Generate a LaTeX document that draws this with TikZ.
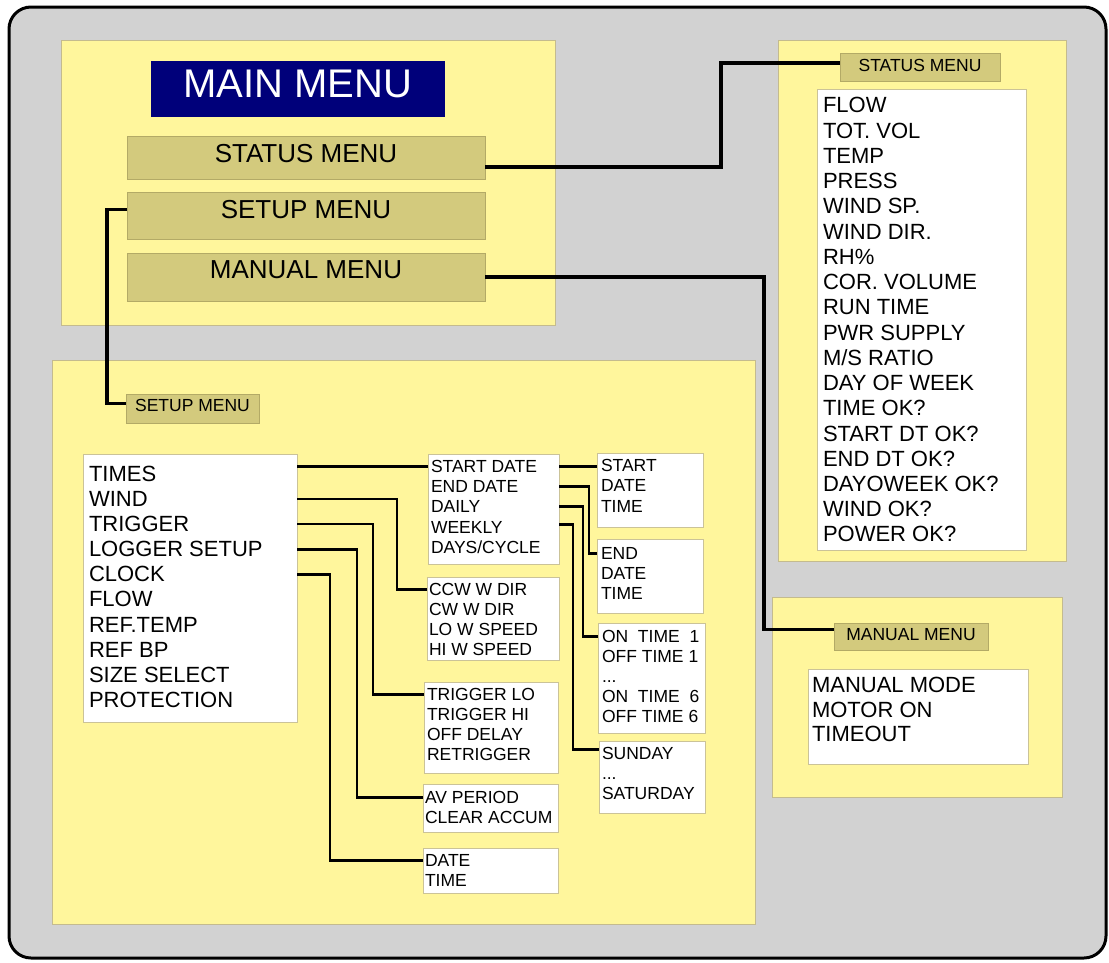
\documentclass[tikz,border=0pt]{standalone}
\usepackage{fontspec}
\setmainfont{Liberation Sans}
\definecolor{bggray}{HTML}{D2D2D2}
\definecolor{panelyellow}{HTML}{FFF69C}
\definecolor{panelborder}{HTML}{C4BB8E}
\definecolor{olive}{HTML}{D3CA7D}
\definecolor{oliveborder}{HTML}{B3AA66}
\definecolor{navy}{HTML}{00007A}
\definecolor{listborder}{HTML}{CBC398}
\newcommand\mydots{...}
\begin{document}
\begin{tikzpicture}[x=1pt,y=-1pt,
  box/.style={rectangle, inner sep=0pt, outer sep=0pt, anchor=north west},
  panel/.style={box, fill=panelyellow, draw=panelborder, line width=1pt},
  listbox/.style={box, fill=white, draw=listborder, line width=1pt},
  btn/.style={box, fill=olive, draw=oliveborder, line width=1pt, font=\fontsize{26}{30}\selectfont, text=black},
  hdr/.style={box, fill=olive, draw=oliveborder, line width=1pt, font=\fontsize{17.5}{20}\selectfont, text=black},
  itemL/.style={anchor=base west, inner sep=0pt, outer sep=0pt, font=\fontsize{22}{26}\selectfont, text=black},
  itemS/.style={anchor=base west, inner sep=0pt, outer sep=0pt, font=\fontsize{17.5}{20}\selectfont, text=black},
  mainline/.style={line width=3.6pt, black},
  subline/.style={line width=2.8pt, black}]
\useasboundingbox (0,0) rectangle (1109,962);
\draw[line width=3pt, rounded corners=22pt, fill=bggray] (9,7) rectangle (1106,958);

% panels
\node[panel, minimum width=494, minimum height=285] (mainpanel) at (61,40) {};
\node[panel, minimum width=288, minimum height=521] (statuspanel) at (778,40) {};
\node[panel, minimum width=290, minimum height=200] (manualpanel) at (772,597) {};
\node[panel, minimum width=703, minimum height=564] (setuppanel) at (52,360) {};

% main menu
\node[box, fill=navy, minimum width=294, minimum height=56, text=white, font=\fontsize{40}{44}\selectfont, text depth=10pt] (mainTitle) at (151,61) {MAIN MENU};
\node[btn, minimum width=358, minimum height=43, text depth=8pt] (mStatus) at (127,136) {STATUS MENU};
\node[btn, minimum width=358, minimum height=47, text depth=12pt] (mSetup) at (127,192) {SETUP MENU};
\node[btn, minimum width=358, minimum height=48, text depth=14pt] (mManual) at (127,253) {MANUAL MENU};

% headers
\node[hdr, minimum width=160, minimum height=28, text depth=4pt] (statusHdr) at (840,53) {STATUS MENU};
\node[hdr, minimum width=154, minimum height=27, text depth=5pt] (manHdr) at (834,623) {MANUAL MENU};
\node[hdr, minimum width=133, minimum height=29, text depth=6pt] (setupHdr) at (126,394) {SETUP MENU};

% list boxes
\node[listbox, minimum width=209, minimum height=461] (statusList) at (817,89) {};
\node[listbox, minimum width=220, minimum height=95] (manList) at (808,669) {};
\node[listbox, minimum width=214, minimum height=268] (setupList) at (83,454) {};
\node[listbox, minimum width=131, minimum height=110] (startBox) at (428,454) {};
\node[listbox, minimum width=132, minimum height=83] (ccwBox) at (427,577) {};
\node[listbox, minimum width=134, minimum height=91] (trigBox) at (424,682) {};
\node[listbox, minimum width=135, minimum height=48] (avBox) at (423,784) {};
\node[listbox, minimum width=135, minimum height=45] (dateBox) at (423,848) {};
\node[listbox, minimum width=106, minimum height=74] (sdtBox) at (597,453) {};
\node[listbox, minimum width=106, minimum height=74] (edtBox) at (597,539) {};
\node[listbox, minimum width=107, minimum height=110] (onBox) at (598,623) {};
\node[listbox, minimum width=106, minimum height=72] (sunBox) at (599,741) {};

% items
\foreach \t [count=\i from 0] in {FLOW, TOT. VOL, TEMP, PRESS, WIND SP., WIND DIR., RH\%, COR. VOLUME, RUN TIME, PWR SUPPLY, M/S RATIO, DAY OF WEEK, TIME OK?, START DT OK?, END DT OK?, DAYOWEEK OK?, WIND OK?, POWER OK?}
  \node[itemL] (st\i) at (823,112.9+25.24*\i) {\t};
\foreach \t [count=\i from 0] in {MANUAL MODE, MOTOR ON, TIMEOUT}
  \node[itemL] (ml\i) at (812,692.9+24.5*\i) {\t};
\foreach \t [count=\i from 0] in {TIMES, WIND, TRIGGER, LOGGER SETUP, CLOCK, FLOW, REF.TEMP, REF BP, SIZE SELECT, PROTECTION}
  \node[itemL] (sl\i) at (89,481.4+25.1*\i) {\t};
\foreach \t [count=\i from 0] in {START DATE, END DATE, DAILY, WEEKLY, DAYS/CYCLE}
  \node[itemS] (sd\i) at (431,472.3+20.3*\i) {\t};
\foreach \t [count=\i from 0] in {CCW W DIR, CW W DIR, LO W SPEED, HI W SPEED}
  \node[itemS] (c\i) at (429,595.3+20*\i) {\t};
\foreach \t [count=\i from 0] in {TRIGGER LO, TRIGGER HI, OFF DELAY, RETRIGGER}
  \node[itemS] (t\i) at (427,700.3+20*\i) {\t};
\foreach \t [count=\i from 0] in {AV PERIOD, CLEAR ACCUM}
  \node[itemS] (a\i) at (425,803.3+20*\i) {\t};
\foreach \t [count=\i from 0] in {DATE, TIME}
  \node[itemS] (d\i) at (425,866.3+20.5*\i) {\t};
\foreach \t [count=\i from 0] in {START, DATE, TIME}
  \node[itemS] (x\i) at (601,471.3+20.5*\i) {\t};
\foreach \t [count=\i from 0] in {END, DATE, TIME}
  \node[itemS] (e\i) at (601,559.3+20*\i) {\t};
\foreach \t [count=\i from 0] in {ON\ \ TIME\ \ 1, OFF TIME 1, \mydots, ON\ \ TIME\ \ 6, OFF TIME 6}
  \node[itemS] (o\i) at (602,642.3+20*\i) {\t};
\foreach \t [count=\i from 0] in {SUNDAY, \mydots, SATURDAY}
  \node[itemS] (u\i) at (602,759.3+20*\i) {\t};

% main connectors
\draw[mainline] ([yshift=12pt]mStatus.south east) -- ++(236,0) |- ([yshift=4pt]statusHdr.west);
\draw[mainline] ([yshift=6pt]mSetup.west) -- ++(-20,0) |- ([yshift=5pt]setupHdr.west);
\draw[mainline] (mManual.east) -- ++(279,0) |- ([yshift=7pt]manHdr.west);

% setup connectors
\draw[subline] (setupList.east |- sd0) -- (startBox.west |- sd0);
\draw[subline] (setupList.east |- sl1) -- ++(100,0) |- (ccwBox.west |- c0);
\draw[subline] (setupList.east |- sl2) -- ++(76,0) |- (trigBox.west |- t0);
\draw[subline] (setupList.east |- sl3) -- ++(60,0) |- (avBox.west |- a0);
\draw[subline] (setupList.east |- sl4) -- ++(33,0) |- (dateBox.west |- d0);
\draw[subline] (startBox.east |- sd0) -- (sdtBox.west |- sd0);
\draw[subline] (startBox.east |- sd1) -- ++(30,0) |- (edtBox.west |- e0);
\draw[subline] (startBox.east |- sd2) -- ++(24,0) |- (onBox.west |- o0);
\draw[subline] ([yshift=3pt]startBox.east |- sd3) -- ++(14,0) |- ([yshift=4pt]sunBox.west |- u0);
\end{tikzpicture}
\end{document}
